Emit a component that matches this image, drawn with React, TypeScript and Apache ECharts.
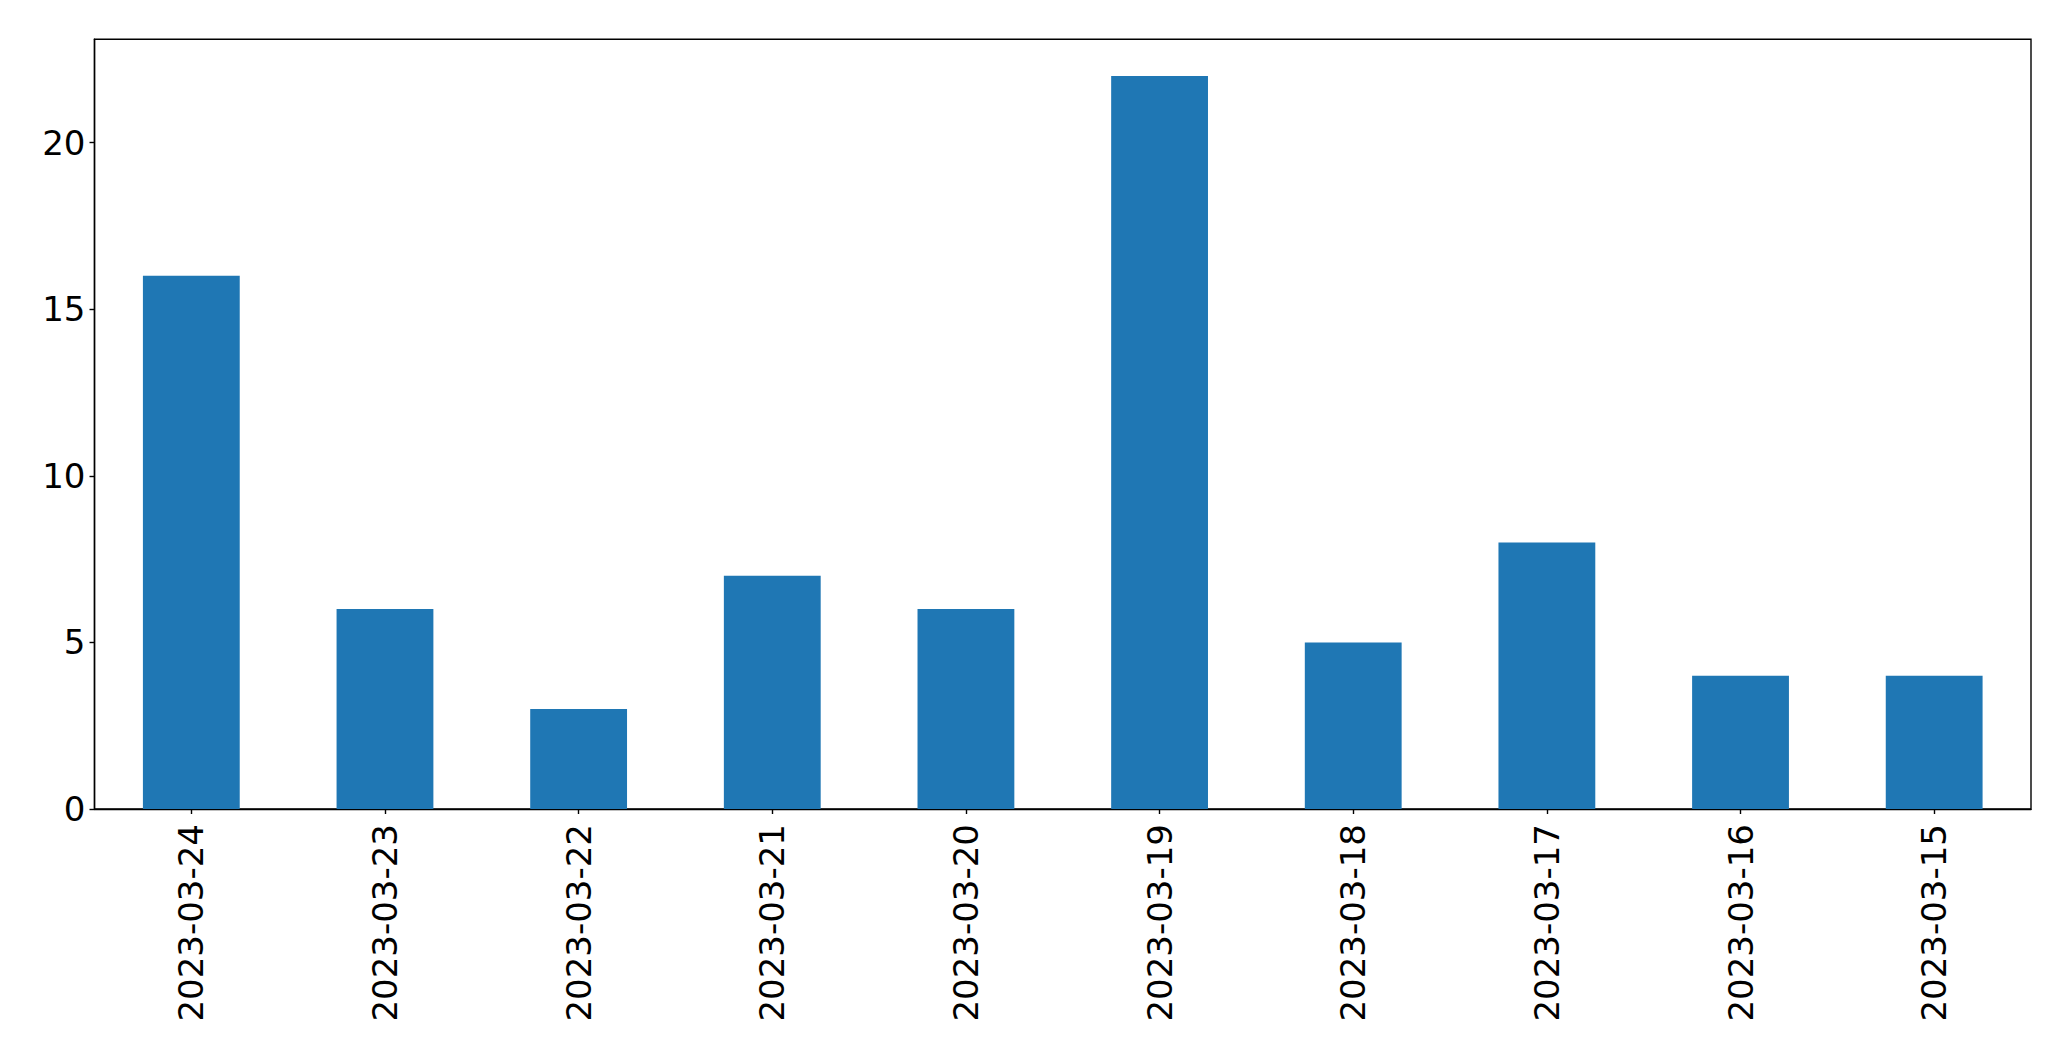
import React, { useEffect, useRef } from "react";
import * as echarts from "echarts";

const categories = [
  "2023-03-24",
  "2023-03-23",
  "2023-03-22",
  "2023-03-21",
  "2023-03-20",
  "2023-03-19",
  "2023-03-18",
  "2023-03-17",
  "2023-03-16",
  "2023-03-15",
];
const values = [16, 6, 3, 7, 6, 22, 5, 8, 4, 4];
const yTicks = [0, 5, 10, 15, 20];
const yMax = 23.1;

export default function App() {
  const ref = useRef<HTMLDivElement>(null);
  useEffect(() => {
    if (!ref.current) return;
    const chart = echarts.init(ref.current, null, { renderer: "svg" });
    const font = "DejaVu Sans";
    chart.setOption({
      animation: false,
      backgroundColor: "#ffffff",
      grid: {
        left: 94.5,
        top: 39.3,
        right: 40,
        bottom: 252,
        show: true,
        borderColor: "#000000",
        borderWidth: 1.4,
        backgroundColor: "transparent",
        containLabel: false,
      },
      xAxis: {
        type: "category",
        data: categories,
        boundaryGap: true,
        axisLine: { show: true, lineStyle: { color: "#000", width: 1.4 } },
        axisTick: {
          show: true,
          alignWithLabel: true,
          length: 5,
          lineStyle: { color: "#000", width: 1.4 },
        },
        axisLabel: {
          rotate: 90,
          interval: 0,
          margin: 15,
          fontFamily: font,
          fontSize: 34,
          color: "#000",
        },
        splitLine: { show: false },
      },
      yAxis: {
        type: "value",
        min: 0,
        max: yMax,
        axisLine: { show: true, lineStyle: { color: "#000", width: 1.4 } },
        axisTick: {
          show: true,
          length: 5,
          customValues: yTicks,
          lineStyle: { color: "#000", width: 1.4 },
        },
        axisLabel: {
          customValues: yTicks,
          margin: 9,
          fontFamily: font,
          fontSize: 34,
          color: "#000",
        },
        splitLine: { show: false },
      },
      series: [
        {
          type: "bar",
          data: values,
          barWidth: "50%",
          itemStyle: { color: "#1f77b4" },
        },
      ],
    });
    return () => chart.dispose();
  }, []);
  return (
    <div
      ref={ref}
      style={{ position: "fixed", left: 0, top: 0, width: 2071, height: 1061 }}
    />
  );
}
